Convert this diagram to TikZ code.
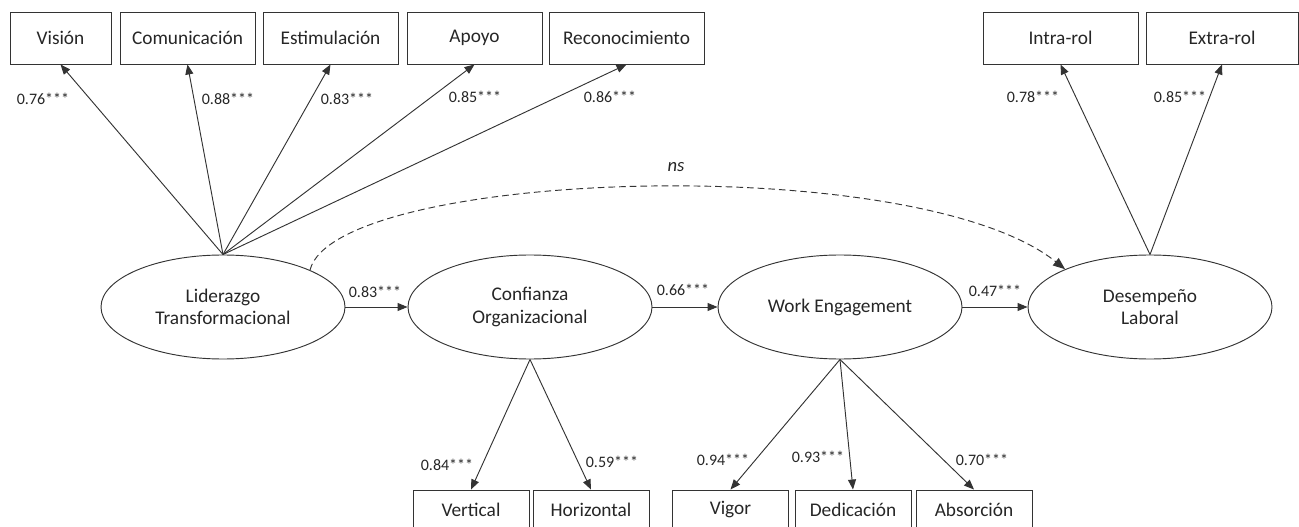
\documentclass[tikz,border=0pt]{standalone}
\usepackage{fontspec}
\setmainfont{Carlito}
\usetikzlibrary{shapes.geometric,arrows.meta}
\begin{document}
\begin{tikzpicture}[x=0.75pt,y=-0.75pt,
  lat/.style={ellipse, draw=black!80, line width=0.7pt, minimum width=183pt, minimum height=78pt, inner sep=0pt, align=center, font=\fontsize{14.5}{17}\selectfont, text=black!85},
  obs/.style={rectangle, draw=black!80, line width=0.7pt, minimum height=39pt, inner sep=0pt, font=\fontsize{14.5}{17}\selectfont, text=black!85},
  obsb/.style={obs, minimum width=87pt, minimum height=30pt},
  lab/.style={font=\fontsize{12}{14}\selectfont, text=black!85, inner sep=0pt},
  arr/.style={-{Triangle[length=7.5pt,width=6pt]}, draw=black!80, line width=0.7pt}
]
\useasboundingbox (0,0) rectangle (1299,527);
% latent variables
\node[lat] (lid) at (223,307) {Liderazgo\\Transformacional};
\node[lat] (conf) at (530,307) {Confianza\\Organizacional};
\node[lat] (we) at (840,307) {Work Engagement};
\node[lat] (des) at (1150,307) {Desempeño\\Laboral};
% top indicators
\node[obs, minimum width=75.75pt] (vis) at (60.5,38) {Visión};
\node[obs, minimum width=101.25pt] (com) at (187.5,38) {Comunicación};
\node[obs, minimum width=101.25pt] (est) at (330.5,38) {Estimulación};
\node[obs, minimum width=101.25pt] (apo) at (474.5,38) {Apoyo};
\node[obs, minimum width=116.25pt] (rec) at (626.5,38) {Reconocimiento};
\node[obs, minimum width=116.25pt] (intra) at (1060.5,38) {Intra-rol};
\node[obs, minimum width=114pt] (extra) at (1222,38) {Extra-rol};
% bottom indicators
\node[obsb] (ver) at (471,510) {Vertical};
\node[obsb] (hor) at (591,510) {Horizontal};
\node[obsb] (vig) at (730.5,510) {Vigor};
\node[obsb] (ded) at (853,510) {Dedicación};
\node[obsb] (abs) at (974,510) {Absorción};
% loadings top
\draw[arr] (lid.north) -- (vis.south);
\draw[arr] (lid.north) -- (com.south);
\draw[arr] (lid.north) -- (est.south);
\draw[arr] (lid.north) -- (apo.south);
\draw[arr] (lid.north) -- (rec.south);
\draw[arr] (des.north) -- (intra.south);
\draw[arr] (des.north) -- (extra.south);
% loadings bottom
\draw[arr] (conf.south) -- (ver.north);
\draw[arr] (conf.south) -- (hor.north);
\draw[arr] (we.south) -- (vig.north);
\draw[arr] (we.south) -- (ded.north);
\draw[arr] (we.south) -- (abs.north);
% structural paths
\draw[arr] (lid.east) -- (conf.west);
\draw[arr] (conf.east) -- (we.west);
\draw[arr] (we.east) -- (des.west);
\draw[arr, dash pattern=on 5pt off 3pt, -{Triangle[length=9pt,width=7pt]}] (lid.23) .. controls +(25,-100) and +(-150,-120) .. (des.156);
% labels
\node[lab] (l1) at (43,99) {0.76***};
\node[lab] (l2) at (228,99) {0.88***};
\node[lab] (l3) at (347,99) {0.83***};
\node[lab] (l4) at (475,97) {0.85***};
\node[lab] (l5) at (610,97) {0.86***};
\node[lab] (l6) at (1033,97) {0.78***};
\node[lab] (l7) at (1180,97) {0.85***};
\node[lab] (l8) at (375,292) {0.83***};
\node[lab] (l9) at (683,290) {0.66***};
\node[lab] (l10) at (995,291) {0.47***};
\node[lab] (l11) at (447,465) {0.84***};
\node[lab] (l12) at (612,462) {0.59***};
\node[lab] (l13) at (723,460) {0.94***};
\node[lab] (l14) at (818,457) {0.93***};
\node[lab] (l15) at (982,460) {0.70***};
\node[lab, font=\fontsize{14}{16}\selectfont\itshape] (ns) at (676,167) {ns};
\end{tikzpicture}
\end{document}
